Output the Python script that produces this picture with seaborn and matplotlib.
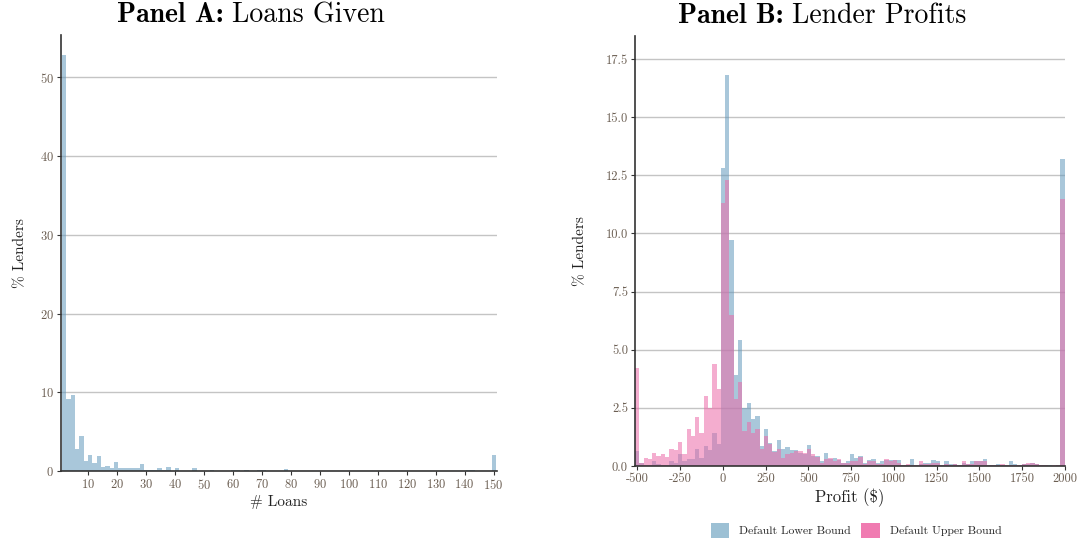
import numpy as np
import pandas as pd
import matplotlib
matplotlib.use("Agg")
import matplotlib.pyplot as plt
import seaborn as sns
from matplotlib.patches import Patch
from matplotlib.offsetbox import TextArea, HPacker, AnchoredOffsetbox

# ---------------- data ----------------
# Panel A: % of lenders per bin of number of loans (100 bins, 1..151)
loans_bin_range = (1.0, 151.0)
loans_pct = [
    52.8, 9.2, 9.7, 2.8, 4.4, 1.25, 2.1, 1.0, 1.9, 0.55,
    0.7, 0.4, 1.2, 0.45, 0.45, 0.45, 0.45, 0.4, 0.85, 0.1,
    0.2, 0.2, 0.35, 0.2, 0.55, 0.05, 0.35, 0.05, 0.05, 0.05,
    0.35, 0.05, 0.05, 0.05, 0.12, 0.05, 0.03, 0.05, 0.05, 0.15,
    0.15, 0.03, 0.1, 0.05, 0.03, 0.15, 0.15, 0.05, 0.03, 0.05,
    0.05, 0.25, 0.03, 0.03, 0.05, 0.03, 0.03, 0.05, 0.03, 0.03,
    0.05, 0.03, 0.03, 0.05, 0.03, 0.03, 0.03, 0.05, 0.03, 0.03,
    0.05, 0.03, 0.03, 0.03, 0.03, 0.05, 0.03, 0.03, 0.03, 0.03,
    0.05, 0.03, 0.03, 0.03, 0.03, 0.03, 0.05, 0.03, 0.03, 0.03,
    0.03, 0.03, 0.03, 0.15, 0.15, 0.03, 0.03, 0.03, 0.03, 2.1,
]

# Panel B: % of lenders per profit bin (100 bins)
profit_bin_range = (-514.0, 2000.0)
profit_lower = [
    0.65, 0.15, 0.05, 0.05, 0.2, 0.1, 0.05, 0.05, 0.2, 0.15,
    0.5, 0.2, 0.3, 0.3, 0.75, 0.35, 0.85, 0.7, 1.4, 0.95,
    12.8, 16.8, 9.7, 3.9, 5.4, 2.5, 2.7, 2.0, 2.15, 0.85,
    1.6, 1.0, 0.65, 1.1, 0.75, 0.8, 0.7, 0.7, 0.55, 0.5,
    0.9, 0.45, 0.45, 0.2, 0.55, 0.3, 0.35, 0.25, 0.15, 0.2,
    0.5, 0.35, 0.45, 0.15, 0.25, 0.3, 0.15, 0.2, 0.25, 0.25,
    0.25, 0.25, 0.05, 0.05, 0.3, 0.05, 0.1, 0.15, 0.15, 0.25,
    0.2, 0.05, 0.2, 0.1, 0.1, 0.05, 0.15, 0.1, 0.2, 0.2,
    0.2, 0.3, 0.05, 0.05, 0.1, 0.05, 0.05, 0.2, 0.1, 0.05,
    0.1, 0.1, 0.15, 0.1, 0.05, 0.05, 0.05, 0.0, 0.05, 13.2,
]
profit_upper = [
    4.2, 0.15, 0.35, 0.3, 0.55, 0.45, 0.5, 0.4, 0.75, 0.7,
    1.05, 0.5, 1.6, 1.3, 2.1, 1.4, 3.0, 2.5, 4.4, 3.3,
    11.3, 12.3, 6.5, 2.9, 3.6, 1.5, 1.9, 1.4, 1.6, 0.75,
    1.3, 0.95, 0.6, 0.75, 0.35, 0.5, 0.55, 0.65, 0.65, 0.55,
    0.75, 0.5, 0.4, 0.15, 0.3, 0.35, 0.2, 0.3, 0.15, 0.15,
    0.2, 0.2, 0.4, 0.1, 0.2, 0.2, 0.1, 0.1, 0.3, 0.2,
    0.25, 0.15, 0.05, 0.1, 0.05, 0.05, 0.2, 0.1, 0.1, 0.15,
    0.15, 0.05, 0.1, 0.05, 0.1, 0.05, 0.2, 0.1, 0.1, 0.2,
    0.2, 0.2, 0.05, 0.05, 0.05, 0.1, 0.05, 0.05, 0.05, 0.05,
    0.1, 0.15, 0.15, 0.1, 0.05, 0.05, 0.0, 0.05, 0.05, 11.5,
]
series_names = ["Default Lower Bound", "Default Upper Bound"]

loans_xticks = list(range(10, 151, 10))
loans_yticks = [0, 10, 20, 30, 40, 50]
profit_xticks = [-500, -250, 0, 250, 500, 750, 1000, 1250, 1500, 1750, 2000]
profit_yticks = [0.0, 2.5, 5.0, 7.5, 10.0, 12.5, 15.0, 17.5]

# ---------------- style ----------------
sns.set_theme(style="white")
plt.rcParams["font.family"] = ["serif"]
plt.rcParams["font.serif"] = ["cmr10", "DejaVu Serif"]
plt.rcParams["mathtext.fontset"] = "cm"
plt.rcParams["axes.formatter.use_mathtext"] = True
plt.rcParams["axes.unicode_minus"] = False

blue = "#6399bc"
pink = "#ec6aa8"
legend_blue = "#9cc0d4"
legend_pink = "#f07bb1"
tick_color = "#6b5e52"
grid_color = "#c4c4c4"
spine_color = "#333333"
bar_alpha = 0.55

fig = plt.figure(figsize=(10.78, 5.44), dpi=100)
axA = fig.add_axes([0.0566, 0.134, 0.4045, 0.8015])
axB = fig.add_axes([0.589, 0.1434, 0.399, 0.790])


def centers_of(rng, n):
    e = np.linspace(rng[0], rng[1], n + 1)
    return (e[:-1] + e[1:]) / 2


def panel_title(ax, bold, rest, xc):
    a = TextArea(bold, textprops=dict(family="cmb10", size=20, color="black"))
    b = TextArea(rest, textprops=dict(family="cmr10", size=20, color="black"))
    box = HPacker(children=[a, b], align="baseline", pad=0, sep=6)
    anc = AnchoredOffsetbox(loc="lower center", child=box, pad=0, borderpad=0,
                            frameon=False, bbox_to_anchor=(xc, 1.016),
                            bbox_transform=ax.transAxes)
    anc.set_clip_on(False)
    ax.add_artist(anc)


# Panel A
dfA = pd.DataFrame({"x": centers_of(loans_bin_range, len(loans_pct)), "pct": loans_pct})
sns.histplot(data=dfA, x="x", weights="pct", bins=len(loans_pct), binrange=loans_bin_range,
             ax=axA, color=blue, alpha=bar_alpha, edgecolor="none", linewidth=0)

# Panel B
cB = centers_of(profit_bin_range, len(profit_lower))
for vals, col in zip([profit_lower, profit_upper], [blue, pink]):
    dfB = pd.DataFrame({"x": cB, "pct": vals})
    sns.histplot(data=dfB, x="x", weights="pct", bins=len(vals), binrange=profit_bin_range,
                 ax=axB, color=col, alpha=bar_alpha, edgecolor="none", linewidth=0)

for ax in (axA, axB):
    ax.set_axisbelow(True)
    ax.yaxis.grid(True, color=grid_color, linewidth=1.0)
    ax.xaxis.grid(False)
    sns.despine(ax=ax)
    for s in ("left", "bottom"):
        ax.spines[s].set_color(spine_color)
        ax.spines[s].set_linewidth(1.2)
    ax.tick_params(axis="both", which="major", length=3, width=0.8, colors=spine_color,
                   labelcolor=tick_color, labelsize=9, pad=2, left=True, bottom=True)

axA.set_xlim(0.7, 151.2)
axA.set_ylim(0, 55.35)
axA.set_xticks(loans_xticks)
axA.set_yticks(loans_yticks)
axA.set_xlabel("# Loans", fontsize=11, labelpad=2, color="#222222")
axA.set_ylabel("% Lenders", fontsize=11, labelpad=9, color="#222222")
panel_title(axA, "Panel A:", "Loans Given", 0.436)

axB.set_xlim(-514, 2002)
axB.set_ylim(0, 18.48)
axB.set_xticks(profit_xticks)
axB.set_xticklabels([str(v) for v in profit_xticks])
axB.set_yticks(profit_yticks)
axB.set_yticklabels([f"{v:.1f}" for v in profit_yticks])
axB.set_xlabel("Profit (\\$)", fontsize=12, labelpad=2, color="#222222")
axB.set_ylabel("% Lenders", fontsize=11, labelpad=13, color="#222222")
panel_title(axB, "Panel B:", "Lender Profits", 0.435)

handles = [Patch(facecolor=legend_blue, edgecolor="none"),
           Patch(facecolor=legend_pink, edgecolor="none")]
fig.legend(handles, series_names, loc="center", bbox_to_anchor=(0.794, 0.025),
           ncol=2, frameon=False, fontsize=8.5, handlelength=1.6, handleheight=1.6,
           columnspacing=0.9, handletextpad=0.8)

fig.savefig("out.png", dpi=100)
